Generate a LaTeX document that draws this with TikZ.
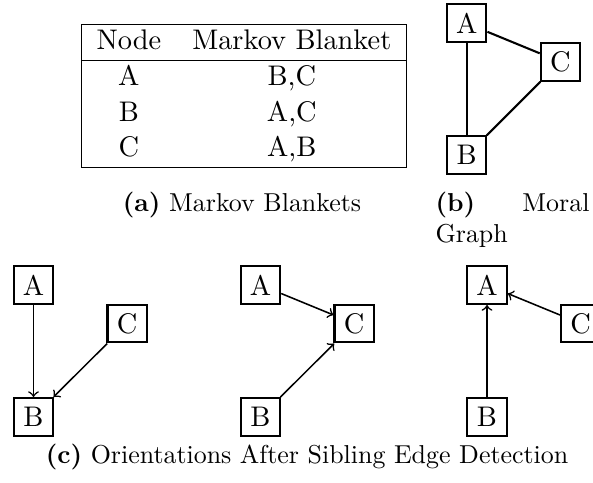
\documentclass[tikz,border=0pt]{standalone}
\usepackage{tikz}

\tikzset{
  bodyfont/.style={font=\fontsize{10.95}{13.6}\selectfont},
  varbox/.style={draw, thick, rectangle, inner sep=0pt, bodyfont,
    minimum width=15.2pt, minimum height=14.6pt},
  moraledge/.style={thick},
  orientedge/.style={->, semithick},
  subcap/.style={font=\fontsize{10}{12}\selectfont, inner sep=0pt}
}

\begin{document}
\begin{tikzpicture}[x=0.386pt, y=-0.386pt]

% ── Canvas (units are pixels of the 593x482 frame) ──────────────────
\path[use as bounding box] (0,0) rectangle (593,482);
\clip (0,0) rectangle (593,482);

% ── Offsets between the three variables ─────────────────────────────
\def\cdx{93.7}    % A to C, horizontal
\def\cdy{38.5}    % A to C, vertical
\def\bdy{132}     % A to B, vertical

% ── Macro to place one A/B/C triple ─────────────────────────────────
% #1=name prefix, #2=x of A, #3=y of A
\newcommand{\varnodes}[3]{%
  \node[varbox] (#1A) at (#2, #3) {A};
  \node[varbox] (#1C) at (#2+\cdx, #3+\cdy) {C};
  \node[varbox] (#1B) at (#2, #3+\bdy) {B};
}

% ── (a) Markov blanket table ────────────────────────────────────────
\node[anchor=north west, inner sep=0pt, bodyfont] (blankets) at (80.5, 23.3)
  {\begin{tabular}{|cc|}
    \hline
    Node & Markov Blanket \\
    \hline
    A & B,C \\
    B & A,C \\
    C & A,B \\
    \hline
  \end{tabular}};
\node[subcap, anchor=base] (capa) at (242, 211)
  {\textbf{(a)} Markov Blankets};

% ── (b) Moral graph ─────────────────────────────────────────────────
\varnodes{m}{466.7}{23.3}
\draw[moraledge] (mA) -- (mB);
\draw[moraledge] (mA) -- (mC);
\draw[moraledge] (mB) -- (mC);
% caption, justified over two lines
\node[subcap, anchor=base west] (capb) at (435, 211) {\textbf{(b)}};
\node[subcap, anchor=base east] (capbmoral) at (590, 211) {Moral};
\node[subcap, anchor=base west] (capbgraph) at (435, 242) {Graph};

% ── (c) Orientations ────────────────────────────────────────────────
\varnodes{p}{33.5}{285}
\varnodes{q}{260.5}{285}
\varnodes{r}{487}{285}

% first orientation
\draw[orientedge] (pA) -- (pB);
\draw[orientedge] (pC) -- (pB);
% second orientation
\draw[orientedge] (qA) -- (qC);
\draw[orientedge] (qB) -- (qC);
% third orientation
\draw[orientedge] (rB) -- (rA);
\draw[orientedge] (rC) -- (rA);

\node[subcap, anchor=base] (capc) at (307, 463)
  {\textbf{(c)} Orientations After Sibling Edge Detection};

\end{tikzpicture}
\end{document}
